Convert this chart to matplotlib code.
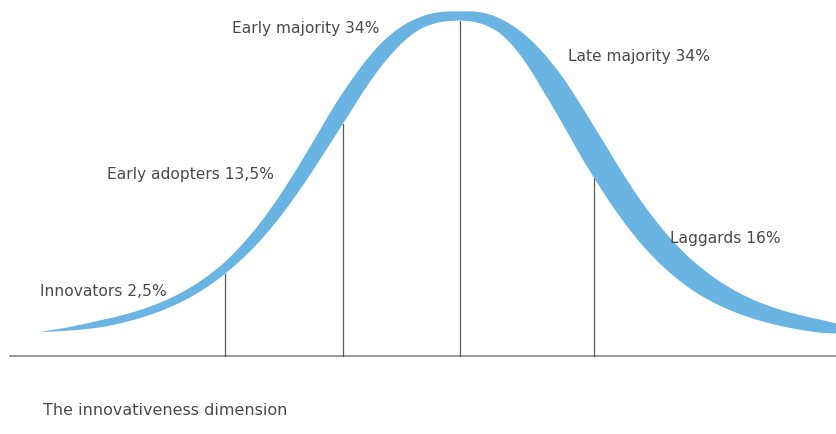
import numpy as np
import matplotlib
matplotlib.use("Agg")
import matplotlib.pyplot as plt

# Adopter categories along the innovativeness dimension
segments = ["Innovators", "Early adopters", "Early majority", "Late majority", "Laggards"]
shares = [2.5, 13.5, 34, 34, 16]
# category boundaries in standard deviations from the mean
cut_sigma = [-2, -1, 0, 1]

# ---- layout (figure pixels, y grows downward) ----
W, H = 836, 435
MU_PX = 460            # mean of the curve
SIG_LEFT_PX = 117.5    # width of one sigma step left of the mean
SIG_RIGHT_PX = 134.0   # ... and right of the mean
BASE_Y = 357           # horizontal axis
CURVE_FLOOR = 342      # level the tails run towards
CURVE_TOP = 17         # centre of the stroke at the peak
LABEL_POS = [(40, 292), (107, 175), (232, 29), (568, 57), (670, 239)]

BAND_COLOR = "#6AB4E4"
TEXT_COLOR = "#4a4a4a"
LINE_COLOR = "#5a5a5a"


def bell(x):
    """Centre line of the stroke, a flat-topped bell with its own spread per side."""
    d = np.abs(x - MU_PX)
    a = np.where(x < MU_PX, 173.0, 162.0)
    p = np.where(x < MU_PX, 2.6, 2.5)
    g = (1 + (d / a) ** p / 2) ** -2
    return CURVE_FLOOR - (CURVE_FLOOR - CURVE_TOP) * g


# stroke width along the curve (brush pinches at the top, heavier on the falling side)
x = np.linspace(43, 842, 1600)
width = np.interp(x, [43, 100, 225, 342, 387, 420, 460, 503, 553, 594, 650, 700, 760, 820, 842],
                  [0.5, 7, 9, 17, 15, 11, 9, 13, 24, 27, 26, 23, 17, 13, 9])

y = bell(x)
dy = np.gradient(y, x)
norm = np.sqrt(1 + dy ** 2)
nx, ny = -dy / norm, 1 / norm
inner_x, inner_y = x + nx * width / 2, y + ny * width / 2
outer_x, outer_y = x - nx * width / 2, y - ny * width / 2

fig = plt.figure(figsize=(W / 100, H / 100), dpi=100)
ax = fig.add_axes([0, 0, 1, 1])
ax.set_xlim(0, W)
ax.set_ylim(H, 0)
ax.axis("off")

ax.fill(np.concatenate([outer_x, inner_x[::-1]]),
        np.concatenate([outer_y, inner_y[::-1]]),
        color=BAND_COLOR, lw=0, zorder=2)

# baseline
ax.plot([10, W], [BASE_Y, BASE_Y], color="#8a8a8a", lw=1.2, zorder=1)

# boundary lines from the axis up to the underside of the stroke
order = np.argsort(inner_x)
for z in cut_sigma:
    xc = MU_PX + z * (SIG_LEFT_PX if z < 0 else SIG_RIGHT_PX)
    top = np.interp(xc, inner_x[order], inner_y[order])
    ax.plot([xc, xc], [BASE_Y, top], color=LINE_COLOR, lw=0.9, zorder=1)

for name, share, (lx, ly) in zip(segments, shares, LABEL_POS):
    txt = f"{share:g}".replace(".", ",")
    ax.text(lx, ly, f"{name} {txt}%", ha="left", va="center",
            fontsize=11.2, color=TEXT_COLOR, family="DejaVu Sans")

ax.text(43, 411, "The innovativeness dimension", ha="left", va="center",
        fontsize=11.5, color=TEXT_COLOR, family="DejaVu Sans")

fig.savefig("out.png", dpi=100, facecolor="white")
